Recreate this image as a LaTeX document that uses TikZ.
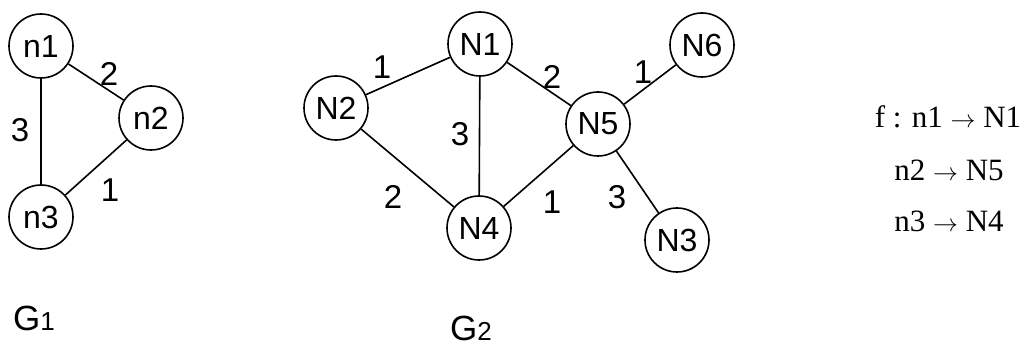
\documentclass[tikz,border=0pt]{standalone}
\usepackage{fontspec}
\setmainfont{Liberation Serif}
\newfontfamily\arialfont{Liberation Sans}
\begin{document}
\begin{tikzpicture}[x=1pt,y=-1pt,
  vertex/.style={draw,circle,line width=1.6pt,minimum size=64pt,inner sep=0pt,font=\arialfont\fontsize{32}{32}\selectfont},
  weight/.style={font=\arialfont\fontsize{33}{33}\selectfont,inner sep=0pt},
  edge/.style={line width=1.6pt},
  title/.style={anchor=base west,inner sep=0pt,font=\arialfont\fontsize{35}{35}\selectfont},
  mapping/.style={anchor=base,inner sep=0pt,font=\fontsize{31}{31}\selectfont}]

\useasboundingbox (0,0) rectangle (1026,352);

% G1
\node[vertex] (n1) at (41,46) {n1};
\node[vertex] (n2) at (151,118) {n2};
\node[vertex] (n3) at (41,217) {n3};
\draw[edge] (n1) -- (n2) (n1) -- (n3) (n2) -- (n3);
\node[weight] (w12) at (109,74) {2};
\node[weight] (w13) at (20,130) {3};
\node[weight] (w23) at (110,190) {1};
\node[title] (g1) at (13,331) {G{\fontsize{26}{26}\selectfont 1}};

% G2
\node[vertex] (N1) at (480,44) {N1};
\node[vertex] (N2) at (336,108) {N2};
\node[vertex] (N4) at (479,228) {N4};
\node[vertex] (N5) at (598,124) {N5};
\node[vertex] (N6) at (702,45) {N6};
\node[vertex] (N3) at (677,240) {N3};
\draw[edge] (N2) -- (N1) (N1) -- (N5) (N5) -- (N6)
  (N1) -- (N4) (N2) -- (N4) (N4) -- (N5) (N5) -- (N3);
\node[weight] (W21) at (382,67) {1};
\node[weight] (W15) at (552,77) {2};
\node[weight] (W56) at (643,72) {1};
\node[weight] (W14) at (460,134) {3};
\node[weight] (W24) at (393,197) {2};
\node[weight] (W45) at (552,202) {1};
\node[weight] (W53) at (617,197) {3};
\node[title] (g2) at (450,341) {G{\fontsize{26}{26}\selectfont 2}};

% mapping
\node[mapping] (m1) at (948,128) {f : n1 $\rightarrow$ N1};
\node[mapping] (m2) at (949,181) {n2 $\rightarrow$ N5};
\node[mapping] (m3) at (949,232) {n3 $\rightarrow$ N4};

\end{tikzpicture}
\end{document}
